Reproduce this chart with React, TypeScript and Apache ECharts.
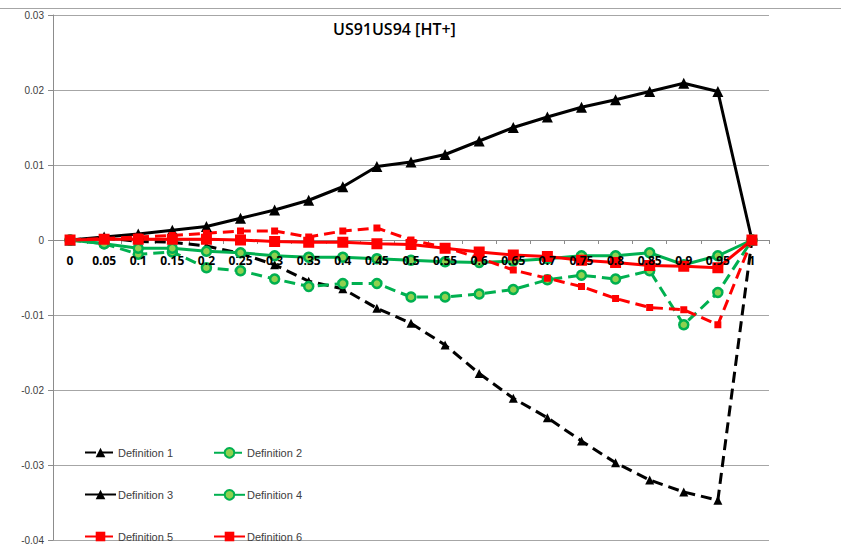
import React, { useEffect, useRef } from "react";
import * as echarts from "echarts";

const categories = ["0", "0.05", "0.1", "0.15", "0.2", "0.25", "0.3", "0.35", "0.4", "0.45", "0.5", "0.55", "0.6", "0.65", "0.7", "0.75", "0.8", "0.85", "0.9", "0.95", "1"];

const def1 = [0, 0.0003, -0.0002, -0.0003, -0.0008, -0.0018, -0.0033, -0.0055, -0.0065, -0.0091, -0.0111, -0.014, -0.0178, -0.0211, -0.0237, -0.0268, -0.0297, -0.032, -0.0336, -0.0347, 0];
const def2 = [0, -0.0005, -0.0019, -0.0016, -0.0037, -0.0041, -0.0052, -0.0062, -0.0058, -0.0058, -0.0076, -0.0076, -0.0072, -0.0066, -0.0053, -0.0047, -0.0052, -0.0041, -0.0113, -0.007, 0];
const def3 = [0, 0.0004, 0.0008, 0.0013, 0.0018, 0.0029, 0.004, 0.0053, 0.0071, 0.0098, 0.0104, 0.0114, 0.0132, 0.015, 0.0164, 0.0177, 0.0187, 0.0198, 0.0209, 0.0198, 0];
const def4 = [0, -0.0005, -0.0011, -0.0011, -0.0015, -0.0017, -0.0021, -0.0023, -0.0023, -0.0025, -0.0027, -0.0029, -0.003, -0.0028, -0.0025, -0.0021, -0.0021, -0.0017, -0.0033, -0.0021, 0];
const def5 = [0, 0.0002, 0.0004, 0.0006, 0.0009, 0.0012, 0.0012, 0.0004, 0.0012, 0.0016, 0, -0.001, -0.0024, -0.004, -0.0051, -0.0062, -0.0078, -0.009, -0.0093, -0.0113, 0];
const def6 = [0, 0.0001, 0.0001, 0.0001, 0.0001, 0, -0.0002, -0.0003, -0.0003, -0.0005, -0.0006, -0.0011, -0.0016, -0.002, -0.0022, -0.0027, -0.003, -0.0034, -0.0035, -0.0037, 0];

const seriesNames = ["Definition 1", "Definition 2", "Definition 3", "Definition 4", "Definition 5", "Definition 6"];

const Y_MIN = -0.04;
const Y_MAX = 0.03;

export default function App() {
  const ref = useRef<HTMLDivElement>(null);
  useEffect(() => {
    if (!ref.current) return;
    const chart = echarts.init(ref.current, null, { renderer: "svg" });
    const dash = [11, 6];
    const green = "#00b050";
    const greenFill = "#8fd14f";
    const gridTop = 15;
    const gridBottom = 13;
    const plotH = 553 - gridTop - gridBottom;
    const zeroOffset = (plotH * (0 - Y_MIN)) / (Y_MAX - Y_MIN);
    const legendPos = [
      [84, 447],
      [213, 447],
      [84, 489],
      [213, 489],
      [84, 531],
      [213, 531],
    ];
    const legends = seriesNames.map((n, i) => ({
      data: [n],
      left: legendPos[i][0],
      top: legendPos[i][1],
      padding: 0,
      itemWidth: 31,
      itemHeight: 12,
      textStyle: { fontFamily: "Liberation Sans", fontSize: 11, color: "#404040", padding: [0, 0, 0, -3] },
    }));
    const option = {
      animation: false,
      backgroundColor: "#ffffff",
      title: {
        text: "US91US94 [HT+]",
        left: 333,
        top: 21,
        padding: 0,
        textStyle: { fontFamily: "Open Sans", fontSize: 16, fontWeight: 600, color: "#000" },
      },
      graphic: [
        { type: "line", shape: { x1: 0, y1: 8.5, x2: 841, y2: 8.5 }, style: { stroke: "#a6a6a6", lineWidth: 1 } },
      ],
      legend: legends,
      grid: { left: 53, right: 72, top: gridTop, bottom: gridBottom, containLabel: false, outerBoundsMode: "none" },
      xAxis: [
        {
          type: "category",
          data: categories,
          position: "bottom",
          offset: -zeroOffset,
          z: 0,
          boundaryGap: true,
          axisLine: { onZero: false, lineStyle: { color: "#8c8c8c", width: 1 } },
          axisTick: { show: true, length: 4, lineStyle: { color: "#8c8c8c" } },
          axisLabel: { show: false },
          splitLine: { show: false },
        },
        {
          type: "category",
          data: categories,
          position: "bottom",
          offset: -zeroOffset,
          z: 10,
          boundaryGap: true,
          axisLine: { show: false, onZero: false },
          axisTick: { show: false },
          axisLabel: {
            interval: 0,
            margin: 14,
            fontFamily: "Open Sans",
            fontSize: 12,
            fontWeight: "bold",
            color: "#000",
          },
          splitLine: { show: false },
        },
      ],
      yAxis: {
        type: "value",
        min: Y_MIN,
        max: Y_MAX,
        interval: 0.01,
        axisLine: { show: true, lineStyle: { color: "#8c8c8c", width: 1 } },
        axisTick: { show: true, length: 5, lineStyle: { color: "#8c8c8c" } },
        axisLabel: { margin: 9, fontFamily: "Liberation Sans", fontSize: 10, color: "#404040" },
        splitLine: { show: true, lineStyle: { color: "#a6a6a6", width: 1 } },
      },
      series: [
        {
          name: seriesNames[0],
          type: "line",
          data: def1,
          symbol: "triangle",
          symbolSize: 9,
          lineStyle: { color: "#000", width: 3, type: dash },
          itemStyle: { color: "#000" },
        },
        {
          name: seriesNames[1],
          type: "line",
          data: def2,
          symbol: "circle",
          symbolSize: 9,
          lineStyle: { color: green, width: 3, type: dash },
          itemStyle: { color: greenFill, borderColor: green, borderWidth: 2.5 },
        },
        {
          name: seriesNames[2],
          type: "line",
          data: def3,
          symbol: "triangle",
          symbolSize: 11,
          lineStyle: { color: "#000", width: 3, type: "solid" },
          itemStyle: { color: "#000" },
        },
        {
          name: seriesNames[3],
          type: "line",
          data: def4,
          symbol: "circle",
          symbolSize: 9,
          lineStyle: { color: green, width: 3, type: "solid" },
          itemStyle: { color: greenFill, borderColor: green, borderWidth: 2.5 },
        },
        {
          name: seriesNames[4],
          type: "line",
          data: def5,
          symbol: "rect",
          symbolSize: 7,
          lineStyle: { color: "#ff0000", width: 3, type: dash },
          itemStyle: { color: "#ff0000" },
        },
        {
          name: seriesNames[5],
          type: "line",
          data: def6,
          symbol: "rect",
          symbolSize: 11,
          lineStyle: { color: "#ff0000", width: 3, type: "solid" },
          itemStyle: { color: "#ff0000" },
        },
      ],
    };
    chart.setOption(option as any);
    return () => chart.dispose();
  }, []);
  return (
    <div
      ref={ref}
      style={{ position: "fixed", left: 0, top: 0, width: 841, height: 553, background: "#fff" }}
    />
  );
}
